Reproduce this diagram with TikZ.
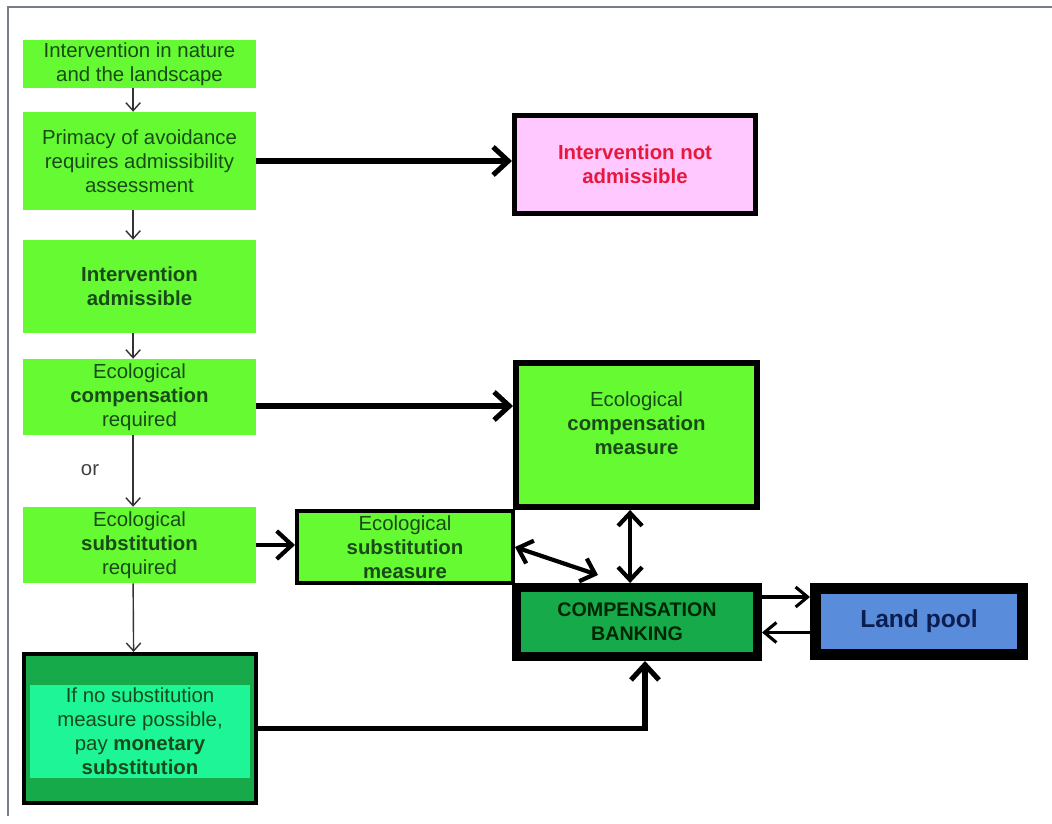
\documentclass[tikz,border=0pt]{standalone}
\usepackage{fontspec}
\setmainfont{Liberation Sans}
\usetikzlibrary{arrows.meta}

\definecolor{lgreen}{RGB}{102,250,51}
\definecolor{dgreen}{RGB}{22,170,75}
\definecolor{mint}{RGB}{30,245,150}
\definecolor{gtext}{RGB}{25,75,25}
\definecolor{pinkbox}{RGB}{255,200,255}
\definecolor{redtext}{RGB}{230,25,60}
\definecolor{poolblue}{RGB}{90,140,220}
\definecolor{pooltext}{RGB}{10,30,80}
\definecolor{framegray}{RGB}{120,125,140}

\begin{document}
\begin{tikzpicture}[
    every node/.style={inner sep=0pt, align=center, font=\fontsize{14.5}{17}\selectfont},
    stage/.style={fill=lgreen, text=gtext, minimum width=5.825cm},
    measure/.style={draw=black, fill=lgreen, text=gtext},
    bigarrow/.style={line width=3.6pt, -{Straight Barb[length=3.8mm,width=7mm]}},
    dblarrow/.style={line width=3pt, {Straight Barb[length=3.2mm,width=6mm]}-{Straight Barb[length=3.2mm,width=6mm]}},
    poolarrow/.style={line width=2.2pt, -{Straight Barb[length=3mm,width=5mm]}},
    thinarrow/.style={draw=black!80, line width=1pt, -{Straight Barb[length=2mm,width=3.6mm]}}]
  \useasboundingbox (0,0) rectangle (26.3,-20.575);
  \draw[framegray, line width=1.2pt] (0.2,-20.4) -- (0.2,-0.175) -- (26.3,-0.175);

  % left column
  \node[stage, minimum height=1.2cm]   (b1) at (3.4875,-1.6)    {Intervention in nature\\and the landscape};
  \node[stage, minimum height=2.45cm]  (b2) at (3.4875,-4.025)  {Primacy of avoidance\\requires admissibility\\assessment};
  \node[stage, minimum height=2.325cm] (b3) at (3.4875,-7.1625) {\textbf{Intervention}\\\textbf{admissible}};
  \node[stage, minimum height=1.9cm]   (b4) at (3.4875,-9.925)  {Ecological\\\textbf{compensation}\\required};
  \node[stage, minimum height=1.9cm]   (b5) at (3.4875,-13.625) {Ecological\\\textbf{substitution}\\required};
  \node[draw=black, line width=2.85pt, fill=dgreen, minimum width=5.8cm, minimum height=3.725cm] (monbox) at (3.5,-18.2125) {};
  \node[fill=mint, text=gtext, minimum width=5.5cm, minimum height=2.325cm] (mon) at (3.5,-18.2875)
    {If no substitution\\measure possible,\\pay \textbf{monetary}\\\textbf{substitution}};
  \node[text=black!75] (or) at (2.25,-11.75) {or};

  \foreach \a/\b in {b1/b2,b2/b3,b3/b4,b4/b5,b5/monbox}
    \draw[thinarrow] ([xshift=-1.6mm]\a.south) -- ([xshift=-1.6mm]\b.north);

  % right side
  \node[draw=black, line width=3.55pt, fill=pinkbox, text=redtext, font=\fontsize{14.5}{17}\selectfont\bfseries,
        minimum width=6.025cm, minimum height=2.45cm] (nadm) at (15.875,-4.1125) {Intervention not\\admissible};
  \node[measure, line width=4.25pt, minimum width=6.025cm, minimum height=3.6cm] (ecm) at (15.9125,-10.875)
    {Ecological\\\textbf{compensation}\\\textbf{measure}\\\mbox{}};
  \node[measure, line width=2.85pt, minimum width=5.4cm, minimum height=1.8cm] (esm) at (10.125,-13.675)
    {Ecological\\\textbf{substitution}\\\textbf{measure}};
  \node[draw=black, line width=6.4pt, fill=dgreen, text=black!85!green, font=\fontsize{14}{17}\selectfont\bfseries,
        minimum width=6.025cm, minimum height=1.725cm] (bank) at (15.925,-15.55) {COMPENSATION\\BANKING};
  \node[draw=black, line width=7.8pt, fill=poolblue, text=pooltext, font=\fontsize{17.5}{20}\selectfont\bfseries,
        minimum width=5.175cm, minimum height=1.65cm] (land) at (22.975,-15.5375) {Land pool};
  \coordinate (dg) at (14.95,-14.375);

  \draw[bigarrow] (b2.east) -- (b2.east -| nadm.west);
  \draw[bigarrow] ([yshift=-2.25mm]b4.east) -- ([yshift=-2.25mm]b4.east -| ecm.west);
  \draw[bigarrow, line width=3pt] (b5.east) -- (b5.east -| esm.west);
  \draw[dblarrow] ([xshift=-1.6mm]ecm.south) -- ([xshift=-1.6mm]ecm.south |- bank.north);
  \draw[dblarrow] (esm.east) -- (dg);
  \draw[poolarrow] ([yshift=6.25mm]bank.east) -- ([yshift=6.25mm]bank.east -| land.west);
  \draw[poolarrow] ([yshift=-2.75mm]land.west) -- ([yshift=-2.75mm]land.west -| bank.east);
  \draw[bigarrow] (monbox.east) -| ([xshift=2mm]bank.south);
\end{tikzpicture}
\end{document}
